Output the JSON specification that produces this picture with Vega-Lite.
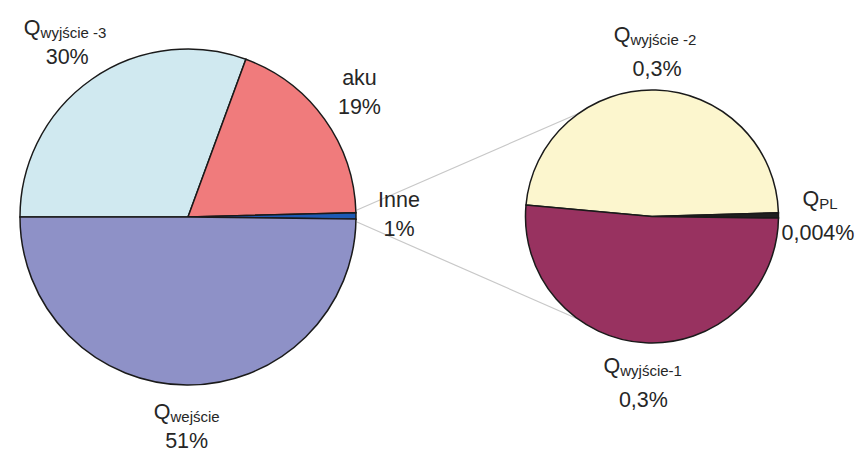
{
  "$schema": "https://vega.github.io/schema/vega-lite/v6.json",
  "width": 866,
  "height": 453,
  "autosize": {"type": "none"},
  "padding": 0,
  "background": "white",
  "config": {"view": {"stroke": null}, "text": {"font": "Liberation Sans"}},
  "datasets": {
    "bilans": [
      {"nazwa": "Qwyjście-3", "q": "Q", "sub": "wyjście -3", "plain": "", "udzial": 30.6, "etykieta": "30%", "kolejnosc": 1},
      {"nazwa": "aku", "q": "", "sub": "", "plain": "aku", "udzial": 19.0, "etykieta": "19%", "kolejnosc": 2},
      {"nazwa": "Inne", "q": "", "sub": "", "plain": "Inne", "udzial": 0.6, "etykieta": "1%", "kolejnosc": 3},
      {"nazwa": "Qwejście", "q": "Q", "sub": "wejście", "plain": "", "udzial": 49.8, "etykieta": "51%", "kolejnosc": 4}
    ],
    "inne": [
      {"nazwa": "Qwyjście-2", "q": "Q", "sub": "wyjście -2", "plain": "", "udzial": 0.290, "etykieta": "0,3%", "kolejnosc": 1},
      {"nazwa": "QPL", "q": "Q", "sub": "PL", "plain": "", "udzial": 0.004, "etykieta": "0,004%", "kolejnosc": 2},
      {"nazwa": "Qwyjście-1", "q": "Q", "sub": "wyjście-1", "plain": "", "udzial": 0.309, "etykieta": "0,3%", "kolejnosc": 3}
    ],
    "lacznik": [{"opis": "Inne"}]
  },
  "layer": [
    {
      "data": {"name": "lacznik"},
      "mark": {"type": "rule", "stroke": "#c8c8c8", "strokeWidth": 1.2},
      "encoding": {
        "x": {"datum": 1.006, "type": "quantitative", "scale": {"domain": [-1.119, 4.036], "nice": false, "zero": false}, "axis": null},
        "y": {"datum": 0.042, "type": "quantitative", "scale": {"domain": [-1.405, 1.292], "nice": false, "zero": false}, "axis": null},
        "x2": {"datum": 2.345},
        "y2": {"datum": 0.625}
      }
    },
    {
      "data": {"name": "lacznik"},
      "mark": {"type": "rule", "stroke": "#c8c8c8", "strokeWidth": 1.2},
      "encoding": {
        "x": {"datum": 1.006, "type": "quantitative", "scale": {"domain": [-1.119, 4.036], "nice": false, "zero": false}, "axis": null},
        "y": {"datum": -0.030, "type": "quantitative", "scale": {"domain": [-1.405, 1.292], "nice": false, "zero": false}, "axis": null},
        "x2": {"datum": 2.375},
        "y2": {"datum": -0.631}
      }
    },
    {
      "data": {"name": "bilans"},
      "encoding": {
        "x": {"datum": 0, "type": "quantitative", "scale": {"domain": [-1.119, 4.036], "nice": false, "zero": false}, "axis": null},
        "y": {"datum": 0, "type": "quantitative", "scale": {"domain": [-1.405, 1.292], "nice": false, "zero": false}, "axis": null},
        "theta": {"field": "udzial", "type": "quantitative", "stack": true, "scale": {"range": [4.7124, 10.9956]}},
        "order": {"field": "kolejnosc", "type": "quantitative"},
        "detail": {"field": "nazwa", "type": "nominal"}
      },
      "layer": [
        {
          "mark": {"type": "arc", "outerRadius": 168, "stroke": "#1a1a1a", "strokeWidth": 1.5},
          "encoding": {
            "color": {"field": "nazwa", "type": "nominal", "legend": null,
              "scale": {"domain": ["Qwyjście-3", "aku", "Inne", "Qwejście", "Qwyjście-2", "QPL", "Qwyjście-1"],
                        "range": ["#d0e9f0", "#f07b7c", "#1e5ab4", "#8e91c7", "#fcf6ce", "#202020", "#983260"]}}
          }
        },
        {
          "mark": {"type": "text", "radius": 211, "dy": 20, "fontSize": 21.5, "fill": "#262626", "align": "center", "baseline": "alphabetic"},
          "encoding": {"text": {"field": "etykieta"}}
        },
        {
          "mark": {"type": "text", "radius": 211, "dy": -9, "fontSize": 21.5, "fill": "#262626", "align": "center", "baseline": "alphabetic"},
          "encoding": {"text": {"field": "plain"}}
        },
        {
          "mark": {"type": "text", "radius": 211, "dy": -9, "fontSize": 21.5, "fill": "#262626", "align": "right", "baseline": "alphabetic",
                   "dx": {"expr": "(16.7 - 7*length(datum.sub))/2"}},
          "encoding": {"text": {"field": "q"}}
        },
        {
          "mark": {"type": "text", "radius": 211, "dy": -6, "fontSize": 15, "fill": "#262626", "align": "left", "baseline": "alphabetic",
                   "dx": {"expr": "(16.7 - 7*length(datum.sub))/2"}},
          "encoding": {"text": {"field": "sub"}}
        }
      ]
    },
    {
      "data": {"name": "inne"},
      "encoding": {
        "x": {"datum": 2.762, "type": "quantitative", "scale": {"domain": [-1.119, 4.036], "nice": false, "zero": false}, "axis": null},
        "y": {"datum": 0.003, "type": "quantitative", "scale": {"domain": [-1.405, 1.292], "nice": false, "zero": false}, "axis": null},
        "theta": {"field": "udzial", "type": "quantitative", "stack": true, "scale": {"range": [4.8031, 11.0863]}},
        "order": {"field": "kolejnosc", "type": "quantitative"},
        "detail": {"field": "nazwa", "type": "nominal"}
      },
      "layer": [
        {
          "mark": {"type": "arc", "outerRadius": 126.5, "stroke": "#1a1a1a", "strokeWidth": 1.5},
          "encoding": {
            "color": {"field": "nazwa", "type": "nominal", "legend": null,
              "scale": {"domain": ["Qwyjście-3", "aku", "Inne", "Qwejście", "Qwyjście-2", "QPL", "Qwyjście-1"],
                        "range": ["#d0e9f0", "#f07b7c", "#1e5ab4", "#8e91c7", "#fcf6ce", "#202020", "#983260"]}}
          }
        },
        {
          "mark": {"type": "text", "radius": 166, "dy": 25, "fontSize": 21.5, "fill": "#262626", "align": "center", "baseline": "alphabetic"},
          "encoding": {"text": {"field": "etykieta"}}
        },
        {
          "mark": {"type": "text", "radius": 166, "dy": -9, "fontSize": 21.5, "fill": "#262626", "align": "right", "baseline": "alphabetic",
                   "dx": {"expr": "(16.7 - 7*length(datum.sub))/2"}},
          "encoding": {"text": {"field": "q"}}
        },
        {
          "mark": {"type": "text", "radius": 166, "dy": -6, "fontSize": 15, "fill": "#262626", "align": "left", "baseline": "alphabetic",
                   "dx": {"expr": "(16.7 - 7*length(datum.sub))/2"}},
          "encoding": {"text": {"field": "sub"}}
        }
      ]
    }
  ],
  "resolve": {"scale": {"theta": "independent"}}
}
